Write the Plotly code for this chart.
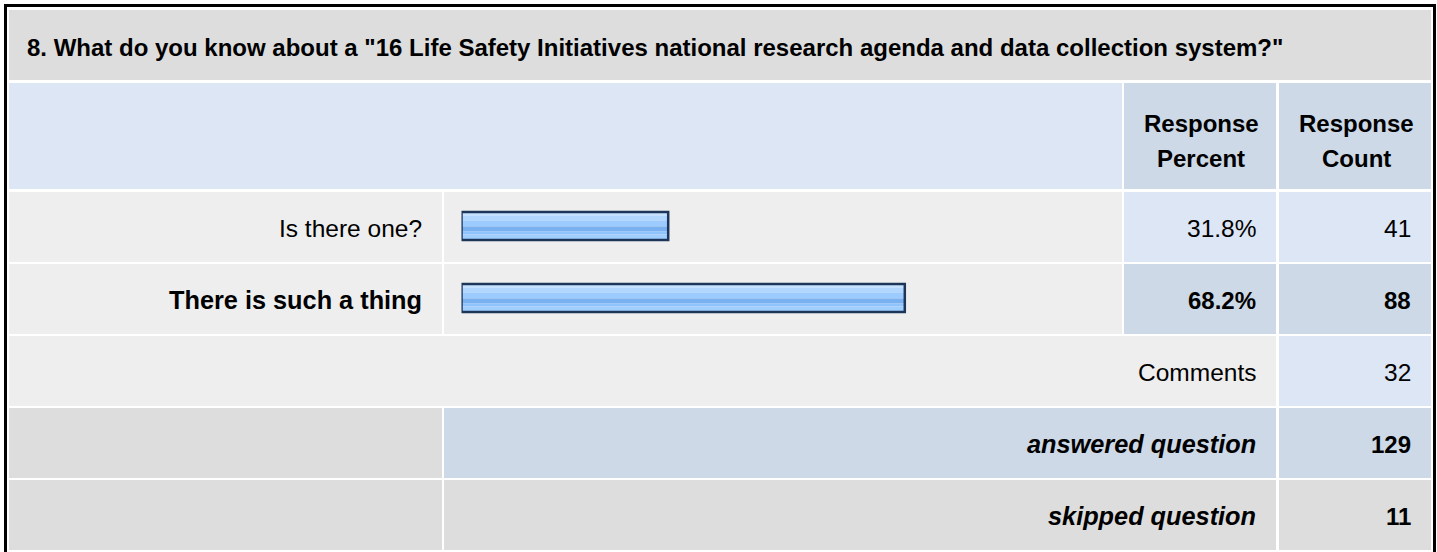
import plotly.graph_objects as go

# ---- survey question data ----
question = '8. What do you know about a "16 Life Safety Initiatives national research agenda and data collection system?"'
choices = ["Is there one?", "There is such a thing"]
percents = [31.8, 68.2]
counts = [41, 88]
comments_label = "Comments"
comments_count = 32
answered_label = "answered question"
answered_count = 129
skipped_label = "skipped question"
skipped_count = 11
header_percent = ["Response", "Percent"]
header_count = ["Response", "Count"]

W, H = 1437, 552
FONT = "Liberation Sans, Arial, Helvetica, sans-serif"
FS_TITLE = 24
FS_BOLD = 25.3
FS_REG = 24.5

# table grid (pixels)
COL_LABEL = (9, 442)
COL_BAR = (444, 1122)
COL_PCT = (1124, 1276)
COL_CNT = (1279, 1431)
ROW_TITLE = (10, 80)
ROW_HEAD = (83, 189)
ROW_TOPS = [192, 264, 336, 408, 480]
ROW_H = 70

GREY = "#dddddd"
LIGHT = "#eeeeee"
BLUE = "#dce6f4"
BLUE2 = "#cdd9e6"

shapes = []


def cell(x0, x1, y0, y1, color):
    shapes.append(dict(type="rect", xref="x", yref="y", x0=x0, x1=x1, y0=y0, y1=y1,
                       fillcolor=color, line=dict(width=0), layer="below"))


# outer frame
shapes.append(dict(type="rect", xref="x", yref="y", x0=5.5, x1=1434.5, y0=5.5, y1=H + 10,
                   fillcolor="white", line=dict(color="black", width=3), layer="below"))

# title and header rows
cell(COL_LABEL[0], COL_CNT[1], *ROW_TITLE, GREY)
cell(COL_LABEL[0], COL_BAR[1], *ROW_HEAD, BLUE)
cell(*COL_PCT, *ROW_HEAD, BLUE2)
cell(*COL_CNT, *ROW_HEAD, BLUE2)

# answer rows
top_idx = percents.index(max(percents))
for i, t in enumerate(ROW_TOPS[:len(choices)]):
    b = t + ROW_H
    cell(*COL_LABEL, t, b, LIGHT)
    cell(*COL_BAR, t, b, LIGHT)
    c = BLUE2 if i == top_idx else BLUE
    cell(*COL_PCT, t, b, c)
    cell(*COL_CNT, t, b, c)

# comments row
t = ROW_TOPS[2]
cell(COL_LABEL[0], COL_PCT[1], t, t + ROW_H, LIGHT)
cell(*COL_CNT, t, t + ROW_H, BLUE)

# answered row
t = ROW_TOPS[3]
cell(*COL_LABEL, t, t + ROW_H, GREY)
cell(COL_BAR[0], COL_PCT[1], t, t + ROW_H, BLUE2)
cell(*COL_CNT, t, t + ROW_H, BLUE2)

# skipped row
t = ROW_TOPS[4]
cell(*COL_LABEL, t, t + ROW_H, GREY)
cell(COL_BAR[0], COL_PCT[1], t, t + ROW_H, GREY)
cell(*COL_CNT, t, t + ROW_H, GREY)

# ---- text ----
ann = []


def text(x, y, s, anchor="right", bold=False, italic=False, size=None):
    if size is None:
        size = FS_BOLD if bold else FS_REG
    if bold:
        s = "<b>" + s + "</b>"
    if italic:
        s = "<i>" + s + "</i>"
    ann.append(dict(x=x, y=y, xref="x", yref="y", text=s, showarrow=False,
                    xanchor=anchor, yanchor="middle",
                    font=dict(family=FONT, size=size, color="black")))


text(25, 47, question, anchor="left", bold=True, size=FS_TITLE)
for col, lines in ((COL_PCT, header_percent), (COL_CNT, header_count)):
    cx = (col[0] + col[1]) / 2 + 1
    text(cx, 123, lines[0], anchor="center", bold=True, size=FS_TITLE)
    text(cx, 158, lines[1], anchor="center", bold=True, size=FS_TITLE)

PAD = 18
for i, (lab, p, n) in enumerate(zip(choices, percents, counts)):
    cy = ROW_TOPS[i] + ROW_H / 2 + 1
    bold = i == top_idx
    text(COL_LABEL[1] - PAD, cy, lab, bold=bold)
    text(COL_PCT[1] - PAD, cy, f"{p:.1f}%", bold=bold, size=FS_TITLE if bold else FS_REG)
    text(COL_CNT[1] - PAD, cy, str(n), bold=bold, size=FS_TITLE if bold else FS_REG)

cy = ROW_TOPS[2] + ROW_H / 2 + 1
text(COL_PCT[1] - PAD, cy, comments_label)
text(COL_CNT[1] - PAD, cy, str(comments_count))
cy = ROW_TOPS[3] + ROW_H / 2 + 1
text(COL_PCT[1] - PAD, cy, answered_label, bold=True, italic=True)
text(COL_CNT[1] - PAD, cy, str(answered_count), bold=True, size=FS_TITLE)
cy = ROW_TOPS[4] + ROW_H / 2 + 1
text(COL_PCT[1] - PAD, cy, skipped_label, bold=True, italic=True)
text(COL_CNT[1] - PAD, cy, str(skipped_count), bold=True, size=FS_TITLE)

# ---- bars: glossy stripes plus a dark outline ----
fig = go.Figure()
bar_y = [ROW_TOPS[i] + 34 for i in range(len(choices))]
BAR_H = 28
stripes = [  # (offset from bar top, height, colour)
    (0, 4, "#c6e1ff"),
    (4, 4.5, "#b2d7ff"),
    (8.5, 6, "#9ccbff"),
    (14.5, 5, "#78b0f0"),
    (19.5, 3, "#8fc3fb"),
    (22.5, 5.5, "#9fceff"),
]
for off, h, col in stripes:
    fig.add_trace(go.Bar(
        x=percents, y=bar_y, orientation="h", xaxis="x2", yaxis="y",
        width=h, offset=off - BAR_H / 2,
        marker=dict(color=col, line=dict(width=0)),
        hoverinfo="skip", showlegend=False))
fig.add_trace(go.Bar(
    x=percents, y=bar_y, orientation="h", xaxis="x2", yaxis="y",
    width=BAR_H, marker=dict(color="rgba(0,0,0,0)", line=dict(color="#1c3558", width=2.5)),
    hoverinfo="skip", showlegend=False))

BAR_X0, BAR_X1 = 461.5, 1111.5
fig.update_layout(
    width=W, height=H, margin=dict(l=0, r=0, t=0, b=0),
    paper_bgcolor="white", plot_bgcolor="rgba(0,0,0,0)",
    barmode="overlay", showlegend=False,
    shapes=shapes, annotations=ann,
    xaxis=dict(range=[0, W], domain=[0, 1], visible=False, fixedrange=True),
    xaxis2=dict(range=[0, 100], domain=[BAR_X0 / W, BAR_X1 / W], anchor="y",
                visible=False, fixedrange=True),
    yaxis=dict(range=[H, 0], domain=[0, 1], visible=False, fixedrange=True),
)

fig.write_html("out.html")
